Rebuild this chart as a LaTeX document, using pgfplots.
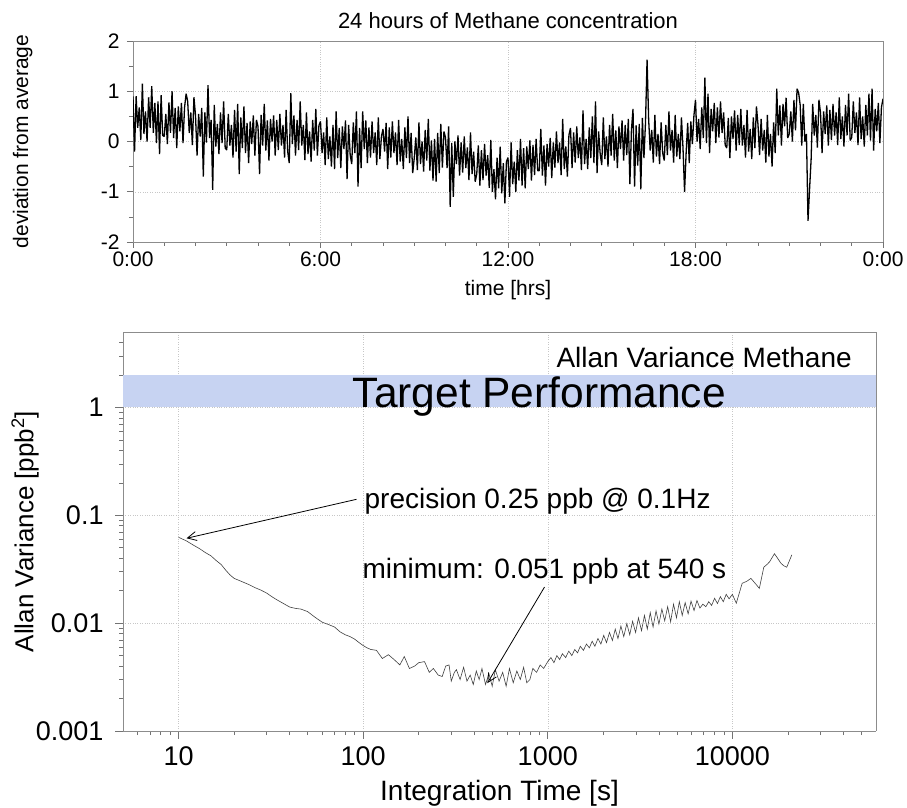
\documentclass[border=0pt]{standalone}
\usepackage{fontspec}
\setmainfont{Liberation Sans}
\usepackage{pgfplots}
\pgfplotsset{compat=1.18}
\usetikzlibrary{arrows.meta}

\definecolor{bandblue}{RGB}{199,211,242}
\newcommand{\fs}[1]{\fontsize{#1}{#1}\selectfont}

\pgfplotsset{
  panel/.style={
    scale only axis,
    tick align=outside,
    axis x line*=bottom, axis y line*=left,
    grid=major,
    major grid style={dotted, black!22},
    axis line style={black!45, line width=0.8pt},
    tick style={black!55, line width=0.6pt},
    /pgf/number format/assume math mode=true,
    after end axis/.code={
      \draw[black!45, line width=0.8pt] (rel axis cs:0,1) -- (rel axis cs:1,1) -- (rel axis cs:1,0);
    },
  },
}

\begin{document}
\begin{tikzpicture}
\useasboundingbox (0,0) rectangle (907pt,-808pt);

% top: 24 h time series
\begin{axis}[panel,
  at={(133pt,-41pt)}, anchor=north west,
  width=750pt, height=201pt,
  xmin=0, xmax=24, ymin=-2, ymax=2,
  xtick={0,6,12,18,24}, xticklabels={0:00,6:00,12:00,18:00,0:00},
  minor x tick num=5,
  ytick={-2,-1,0,1,2}, minor y tick num=1,
  major tick length=6pt, minor tick length=4pt,
  tick label style={font=\fs{21}},
  yticklabel style={xshift=-4pt},
  xlabel={time [hrs]}, ylabel={deviation from average},
  label style={font=\fs{21}},
  xlabel style={at={(axis description cs:0.5,-0.239)}, anchor=center},
  ylabel style={at={(axis description cs:-0.147,0.5)}, anchor=center},
  title={24 hours of Methane concentration},
  title style={at={(axis description cs:0.5,1.07)}, anchor=center, font=\fs{22}},
]
\addplot[black, line width=1.3pt, line join=bevel] table[row sep=\\, header=false, x expr=\coordindex*0.05, y index=0] {
0.90\\-0.20\\0.90\\0.27\\0.68\\0.03\\1.15\\0.15\\0.60\\0.00\\0.88\\0.27\\1.10\\0.17\\0.77\\-0.03\\0.80\\-0.25\\0.92\\0.12\\
0.10\\0.55\\-0.05\\0.78\\0.17\\1.00\\0.07\\0.67\\-0.13\\0.70\\0.20\\0.77\\-0.03\\0.68\\0.95\\0.80\\0.17\\0.58\\-0.07\\0.88\\
0.52\\-0.28\\0.55\\0.10\\0.67\\-0.70\\0.58\\-0.02\\1.12\\0.07\\0.43\\-0.96\\0.73\\-0.10\\0.35\\-0.25\\0.58\\-0.03\\0.80\\-0.13\\
-0.17\\0.55\\-0.08\\0.33\\-0.32\\0.63\\-0.20\\0.75\\-0.65\\0.48\\-0.13\\0.70\\-0.23\\0.37\\-0.43\\0.40\\-0.05\\0.52\\-0.28\\0.43\\
0.30\\-0.65\\0.53\\-0.08\\0.75\\-0.18\\0.42\\-0.38\\0.45\\0.00\\0.52\\-0.28\\0.43\\-0.17\\0.55\\-0.08\\0.33\\-0.32\\0.63\\-0.20\\
-0.43\\0.96\\-0.05\\0.52\\-0.28\\0.43\\-0.17\\0.80\\-0.08\\0.33\\-0.37\\0.58\\-0.25\\0.20\\-0.40\\0.43\\-0.18\\0.65\\-0.28\\0.32\\
0.40\\-0.23\\0.18\\-0.47\\0.48\\-0.35\\0.10\\-0.50\\0.33\\-0.55\\0.60\\-0.33\\0.27\\-0.53\\0.30\\-0.15\\0.42\\-0.75\\0.33\\-0.27\\
-0.45\\0.38\\-0.23\\0.60\\-0.90\\0.27\\-0.53\\0.60\\-0.15\\0.42\\-0.43\\0.28\\-0.32\\0.40\\-0.23\\0.18\\-0.47\\0.48\\-0.35\\0.10\\
0.25\\-0.20\\0.37\\-0.55\\0.28\\-0.32\\0.40\\-0.23\\0.18\\-0.47\\0.43\\-0.40\\0.05\\-0.55\\0.28\\-0.33\\0.50\\-0.43\\0.17\\-0.63\\
-0.33\\0.08\\-0.57\\0.38\\-0.45\\0.00\\-0.60\\0.23\\-0.38\\0.45\\-0.58\\0.02\\-0.78\\0.05\\-0.80\\0.17\\-0.63\\0.35\\-0.52\\0.20\\
0.08\\-0.53\\0.30\\-1.30\\-0.03\\-1.10\\0.00\\-0.45\\0.12\\-0.68\\-0.02\\-0.62\\0.10\\-0.53\\-0.12\\-0.77\\0.18\\-0.65\\-0.20\\-0.80\\
-0.65\\-0.08\\-0.88\\-0.17\\-0.77\\-0.05\\-0.68\\-0.27\\-0.92\\0.03\\-1.00\\-0.55\\-1.15\\-0.32\\-0.93\\-0.10\\-1.03\\-0.43\\-1.23\\-0.40\\
-0.32\\-1.10\\-0.02\\-0.85\\-0.40\\-1.00\\-0.17\\-0.78\\0.05\\-0.88\\-0.13\\-0.93\\-0.10\\-0.55\\0.02\\-0.78\\-0.07\\-0.67\\0.05\\-0.58\\
-0.58\\0.25\\-0.68\\-0.08\\-0.88\\-0.05\\-0.50\\0.07\\-0.73\\-0.02\\-0.52\\0.20\\-0.43\\-0.02\\-0.67\\0.45\\-0.55\\-0.10\\-0.70\\0.13\\
0.27\\-0.53\\0.18\\-0.42\\0.30\\-0.33\\0.08\\-0.57\\0.62\\-0.45\\0.05\\-0.55\\0.28\\-0.33\\0.50\\-0.43\\0.80\\-0.63\\0.20\\-0.25\\
-0.47\\0.48\\-0.35\\0.10\\-0.50\\0.33\\-0.28\\0.55\\-0.38\\0.22\\-0.53\\0.30\\-0.15\\0.42\\-0.38\\0.33\\-0.27\\0.45\\-0.85\\0.23\\
0.65\\-0.90\\0.32\\-0.48\\0.35\\-0.95\\0.47\\-0.33\\0.38\\1.63\\0.45\\-0.18\\0.23\\-0.42\\0.53\\-0.30\\0.15\\-0.45\\0.38\\-0.23\\
-0.38\\0.33\\-0.27\\0.60\\-0.18\\0.23\\-0.42\\0.53\\-0.30\\0.15\\-0.35\\0.48\\-0.13\\-1.00\\-0.23\\0.37\\-0.43\\0.40\\-0.05\\0.52\\
0.83\\0.00\\0.45\\-0.15\\0.68\\0.07\\1.27\\-0.03\\0.95\\-0.23\\0.65\\0.20\\0.77\\-0.03\\0.68\\0.08\\0.80\\0.17\\0.58\\-0.07\\
-0.13\\0.47\\-0.33\\0.50\\0.05\\0.62\\-0.18\\0.53\\-0.07\\0.65\\-0.08\\0.33\\-0.32\\0.63\\-0.20\\0.25\\-0.35\\0.48\\-0.13\\0.70\\
0.33\\-0.27\\0.45\\-0.18\\0.23\\-0.42\\0.53\\-0.30\\0.15\\-0.50\\0.38\\-0.23\\1.05\\0.12\\0.72\\-0.08\\0.75\\0.30\\0.87\\0.07\\
0.15\\0.60\\0.00\\0.83\\0.22\\1.05\\0.97\\0.72\\-0.08\\0.75\\0.00\\0.15\\-1.58\\-0.95\\-0.35\\0.75\\0.12\\0.53\\-0.12\\0.83\\
0.57\\-0.23\\0.60\\0.15\\0.72\\-0.08\\0.63\\0.03\\0.75\\0.12\\0.58\\-0.07\\0.88\\0.05\\0.50\\-0.10\\0.73\\0.12\\0.95\\0.02\\
0.08\\0.80\\0.17\\0.58\\-0.07\\0.88\\0.05\\0.50\\-0.10\\0.73\\0.12\\0.95\\0.02\\1.05\\-0.18\\0.65\\0.20\\0.77\\-0.03\\0.68\\
0.85\\
};
\end{axis}

% bottom: Allan variance
\begin{axis}[panel,
  at={(123pt,-332pt)}, anchor=north west,
  width=753pt, height=399pt,
  xmode=log, ymode=log,
  xmin=5, xmax=60000, ymin=0.001, ymax=5,
  xtick={10,100,1000,10000}, xticklabels={10,100,1000,10000},
  minor xtick={6,7,8,9,20,30,40,50,60,70,80,90,200,300,400,500,600,700,800,900,2000,3000,4000,5000,6000,7000,8000,9000,20000,30000,40000,50000},
  ytick={0.001,0.01,0.1,1}, yticklabels={0.001,0.01,0.1,1},
  minor ytick={0.002,0.003,0.004,0.005,0.006,0.007,0.008,0.009,0.02,0.03,0.04,0.05,0.06,0.07,0.08,0.09,0.2,0.3,0.4,0.5,0.6,0.7,0.8,0.9,2,3,4},
  major tick length=8pt, minor tick length=4pt,
  tick label style={font=\fs{27}},
  xticklabel style={yshift=-4pt},
  yticklabel style={xshift=-8pt},
  xlabel={Integration Time [s]}, ylabel={Allan Variance [ppb\textsuperscript{2}]},
  xlabel style={at={(axis description cs:0.5,-0.155)}, anchor=center, font=\fs{28}},
  ylabel style={at={(axis description cs:-0.130,0.5)}, anchor=center, font=\fs{26}},
]
\addplot[draw=none, fill=bandblue] coordinates {(5,1) (60000,1) (60000,2) (5,2)} -- cycle;

\addplot[black!75, line width=0.6pt] coordinates {
(10,0.0625)(11,0.058)(12,0.053)(13,0.049)(14,0.045)(15,0.042)(16,0.038)(17,0.035)(18,0.031)(19,0.028)
(20,0.026)(22,0.0243)(24,0.0228)(26,0.0213)(28,0.0202)(30,0.019)(32,0.0176)(34,0.0165)(37,0.0152)(40,0.0141)
(43,0.0137)(46,0.0135)(50,0.0128)(55,0.0113)(60,0.0102)(65,0.0097)(70,0.0092)(75,0.0083)(80,0.0078)(85,0.0075)
(90,0.0071)(95,0.0066)(100,0.0062)(105,0.0059)(110,0.0057)(118,0.0056)(127,0.0047)(137,0.0051)(147,0.0046)(158,0.0041)
(167,0.0049)(178,0.0038)(190,0.0040)(200,0.0043)(215,0.0044)(228,0.0035)(240,0.0038)(255,0.0033)(268,0.0032)(280,0.0040)
(292,0.0041)(300,0.0029)(312,0.0035)(320,0.0037)(335,0.0030)(350,0.0039)(365,0.0029)(380,0.0033)(395,0.0027)(410,0.0036)
(425,0.0030)(440,0.0038)(460,0.0027)(480,0.0034)(500,0.0026)(520,0.0037)(545,0.0029)(570,0.0035)(595,0.0026)(620,0.0038)
(650,0.0028)(680,0.0036)(710,0.0030)(740,0.0039)(770,0.0028)(800,0.0030)(830,0.0038)(870,0.0035)(910,0.0041)(950,0.0038)
(1000,0.0044)(1040,0.0048)(1080,0.0043)(1120,0.0050)(1160,0.0046)(1200,0.0052)(1250,0.0048)(1300,0.0055)(1350,0.0050)(1400,0.0057)
(1450,0.0053)(1500,0.0061)(1560,0.0056)(1620,0.0064)(1680,0.0059)(1740,0.0068)(1800,0.0061)(1870,0.0072)(1940,0.0064)(2010,0.0077)
(2080,0.0066)(2160,0.0082)(2240,0.0069)(2320,0.0088)(2400,0.0072)(2490,0.0094)(2580,0.0075)(2680,0.0099)(2780,0.0078)(2880,0.0104)
(2990,0.0082)(3100,0.0112)(3220,0.0085)(3340,0.0118)(3460,0.0088)(3590,0.0125)(3720,0.0092)(3860,0.0130)(4000,0.0098)(4150,0.0135)
(4300,0.0105)(4460,0.0142)(4630,0.0103)(4800,0.0150)(4980,0.0112)(5160,0.0158)(5350,0.0118)(5550,0.0155)(5760,0.0122)(5970,0.0160)
(6200,0.0131)(6430,0.0162)(6670,0.0138)(6920,0.0150)(7180,0.0142)(7450,0.0158)(7720,0.0146)(8010,0.0170)(8300,0.0152)(8610,0.0176)
(8930,0.0158)(9260,0.0185)(9600,0.0168)(10000,0.0185)(10500,0.0153)(11300,0.0234)(12000,0.0245)(12600,0.026)(13400,0.023)(14000,0.021)
(14800,0.033)(15400,0.035)(15900,0.037)(16900,0.044)(17400,0.041)(18300,0.036)(19000,0.034)(19700,0.033)(21000,0.043)
};

\node[anchor=base east, inner sep=0pt, font=\fs{28}] at (rel axis cs:0.968,0.910) {Allan Variance Methane};
\node[anchor=base, inner sep=0pt, font=\fs{42.5}] at (axis cs:900,1) {Target Performance};
\node[anchor=base west, inner sep=0pt, font=\fs{28}] at (axis cs:101.6,0.116) {precision 0.25 ppb @ 0.1Hz};
\node[anchor=base west, inner sep=0pt, font=\fs{28}] at (axis cs:99,0.0261) {minimum: 0.051 ppb at 540 s};
\draw[line width=0.8pt, -{Straight Barb[length=9pt,width=9pt]}] (axis cs:92,0.1406) -- (axis cs:11.05,0.0612);
\draw[line width=0.8pt, -{Straight Barb[length=9pt,width=9pt]}] (axis cs:960,0.0216) -- (axis cs:471,0.00278);
\end{axis}
\end{tikzpicture}
\end{document}
